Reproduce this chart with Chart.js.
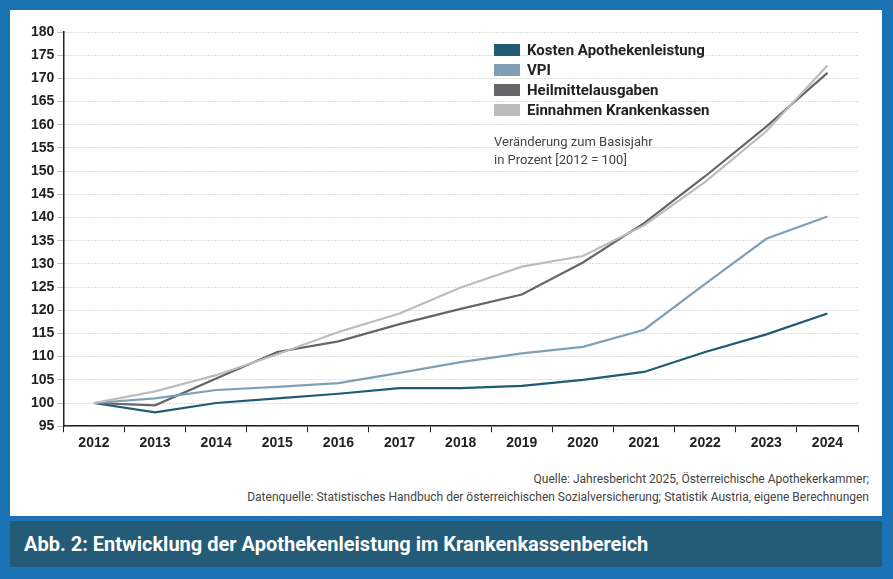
<!DOCTYPE html>
<html>
<head>
<meta charset="utf-8">
<script src="https://cdn.jsdelivr.net/npm/chart.js@4/dist/chart.umd.min.js"></script>
<style>
  body { margin: 0; width: 893px; height: 579px; background: #1b72b5; font-family: Roboto, "Noto Sans", sans-serif; overflow: hidden; }
  #card { position: absolute; left: 10px; top: 10px; width: 872px; height: 506px; background: #fff; }
  #wrap { position: absolute; left: 10px; top: 10px; width: 860px; height: 445px; }
  #legend { position: absolute; left: 494px; top: 40px; font-weight: bold; font-size: 15px; color: #222; }
  #legend div { height: 20px; line-height: 20px; }
  #legend span { display: inline-block; width: 26px; height: 12px; margin-right: 7px; vertical-align: -1px; }
  #note { position: absolute; left: 494px; top: 133px; font-size: 13px; color: #444; line-height: 18px; }
  #source { position: absolute; right: 24px; top: 470px; text-align: right; font-size: 12px; color: #444; line-height: 18px; }
  #banner { position: absolute; left: 10px; top: 521px; width: 872px; height: 46px; background: #245b77; color: #fff; font-weight: bold; font-size: 20px; line-height: 46px; padding-left: 14px; box-sizing: border-box; }
</style>
</head>
<body>
<div id="card"></div>
<div id="wrap"><canvas id="chart" width="860" height="445"></canvas></div>
<div id="legend"></div>
<div id="note">Veränderung zum Basisjahr<br>in Prozent [2012 = 100]</div>
<div id="source">Quelle: Jahresbericht 2025, Österreichische Apothekerkammer;<br>Datenquelle: Statistisches Handbuch der österreichischen Sozialversicherung; Statistik Austria, eigene Berechnungen</div>
<div id="banner">Abb. 2: Entwicklung der Apothekenleistung im Krankenkassenbereich</div>
<script>
const years = ['2012','2013','2014','2015','2016','2017','2018','2019','2020','2021','2022','2023','2024'];
const kosten = [100, 98, 100, 101, 102, 103.2, 103.2, 103.7, 105, 106.7, 111, 114.8, 119.3];
const vpi = [100, 101, 102.8, 103.5, 104.3, 106.5, 108.8, 110.7, 112.1, 115.8, 125.7, 135.4, 140.2];
const heilmittel = [100, 99.5, 105.3, 111, 113.3, 117, 120.3, 123.4, 130.3, 138.8, 148.9, 159.6, 171.2];
const einnahmen = [100, 102.5, 106, 110.5, 115.3, 119.3, 124.9, 129.4, 131.7, 138.3, 147.7, 158.6, 172.8];

const series = [
  { label: 'Kosten Apothekenleistung', data: kosten, color: '#1f5b74' },
  { label: 'VPI', data: vpi, color: '#7f9fb6' },
  { label: 'Heilmittelausgaben', data: heilmittel, color: '#66666a' },
  { label: 'Einnahmen Krankenkassen', data: einnahmen, color: '#bcbcbe' }
];

// legend as plain html
const legend = document.getElementById('legend');
series.forEach(s => {
  const row = document.createElement('div');
  row.innerHTML = `<span style="background:${s.color}"></span>${s.label}`;
  legend.appendChild(row);
});

// draw lighter series first so darker ones sit on top
const order = [3, 1, 2, 0];

new Chart(document.getElementById('chart'), {
  type: 'line',
  data: {
    labels: years,
    datasets: order.map(i => ({
      label: series[i].label,
      data: series[i].data,
      borderColor: series[i].color,
      borderWidth: 2.2,
      pointRadius: 0,
      tension: 0
    }))
  },
  options: {
    responsive: false,
    animation: false,
    layout: { padding: { top: 22, right: 12, left: 18 } },
    plugins: { legend: { display: false }, tooltip: { enabled: false } },
    scales: {
      x: {
        offset: true,
        grid: { display: true, drawOnChartArea: false, color: '#222', tickLength: 6, offset: true },
        border: { color: '#222', width: 1.5 },
        ticks: { color: '#222', autoSkip: false, maxRotation: 0, font: { weight: 'bold', size: 14 } }
      },
      y: {
        min: 95, max: 180,
        grid: { color: '#bbbbbb', tickLength: 6, lineWidth: 1 },
        border: { color: '#222', width: 1.5, dash: [1, 2] },
        ticks: { stepSize: 5, autoSkip: false, color: '#222', font: { weight: 'bold', size: 14 } }
      }
    }
  }
});
</script>
</body>
</html>
